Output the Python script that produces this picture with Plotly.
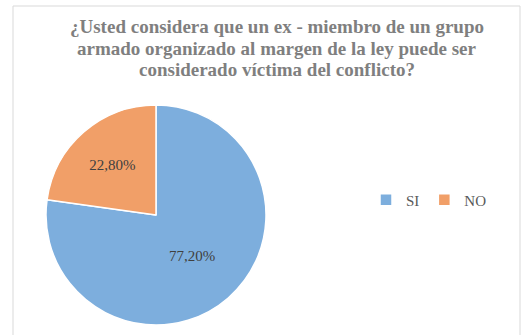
import plotly.graph_objects as go

labels = ["SI", "NO"]
values = [77.2, 22.8]
colors = ["#7DAEDD", "#F19F68"]
title_lines = [
    "¿Usted considera que un ex - miembro de un grupo",
    "armado organizado al margen de la ley puede ser",
    "considerado víctima del conflicto?",
]

W, H = 526, 335
cx, cy, r = 156, 215, 110
title_y = [26, 48, 69]
title_cx = 277

fig = go.Figure(go.Pie(
    labels=labels,
    values=values,
    sort=False,
    direction="clockwise",
    rotation=0,
    marker=dict(colors=colors, line=dict(color="white", width=1.5)),
    texttemplate="%{percent:.2%}",
    textposition="inside",
    insidetextorientation="horizontal",
    textfont=dict(family="Liberation Serif", size=15, color="#404040"),
    domain=dict(x=[(cx - r) / W, (cx + r) / W], y=[(H - cy - r) / H, (H - cy + r) / H]),
    hoverinfo="label+percent",
))

annotations = [
    dict(text="<b>" + t + "</b>", xref="paper", yref="paper", x=title_cx / W, y=1 - yy / H,
         xanchor="center", yanchor="middle", showarrow=False,
         font=dict(family="Liberation Serif", size=19, color="#7F7F7F"))
    for t, yy in zip(title_lines, title_y)
]

fig.update_layout(
    width=W, height=H,
    margin=dict(l=0, r=0, t=0, b=0),
    paper_bgcolor="white",
    separators=",.",
    annotations=annotations,
    legend=dict(
        orientation="h", x=366 / W, y=1 - 200 / H, xanchor="left", yanchor="middle",
        font=dict(family="Liberation Serif", size=15, color="#595959"),
        itemwidth=30,
    ),
    shapes=[dict(type="rect", xref="paper", yref="paper",
                 x0=13 / W, x1=520 / W, y0=-0.01, y1=1 - 6 / H,
                 line=dict(color="#D9D9D9", width=1))],
)

fig.write_html("out.html")
